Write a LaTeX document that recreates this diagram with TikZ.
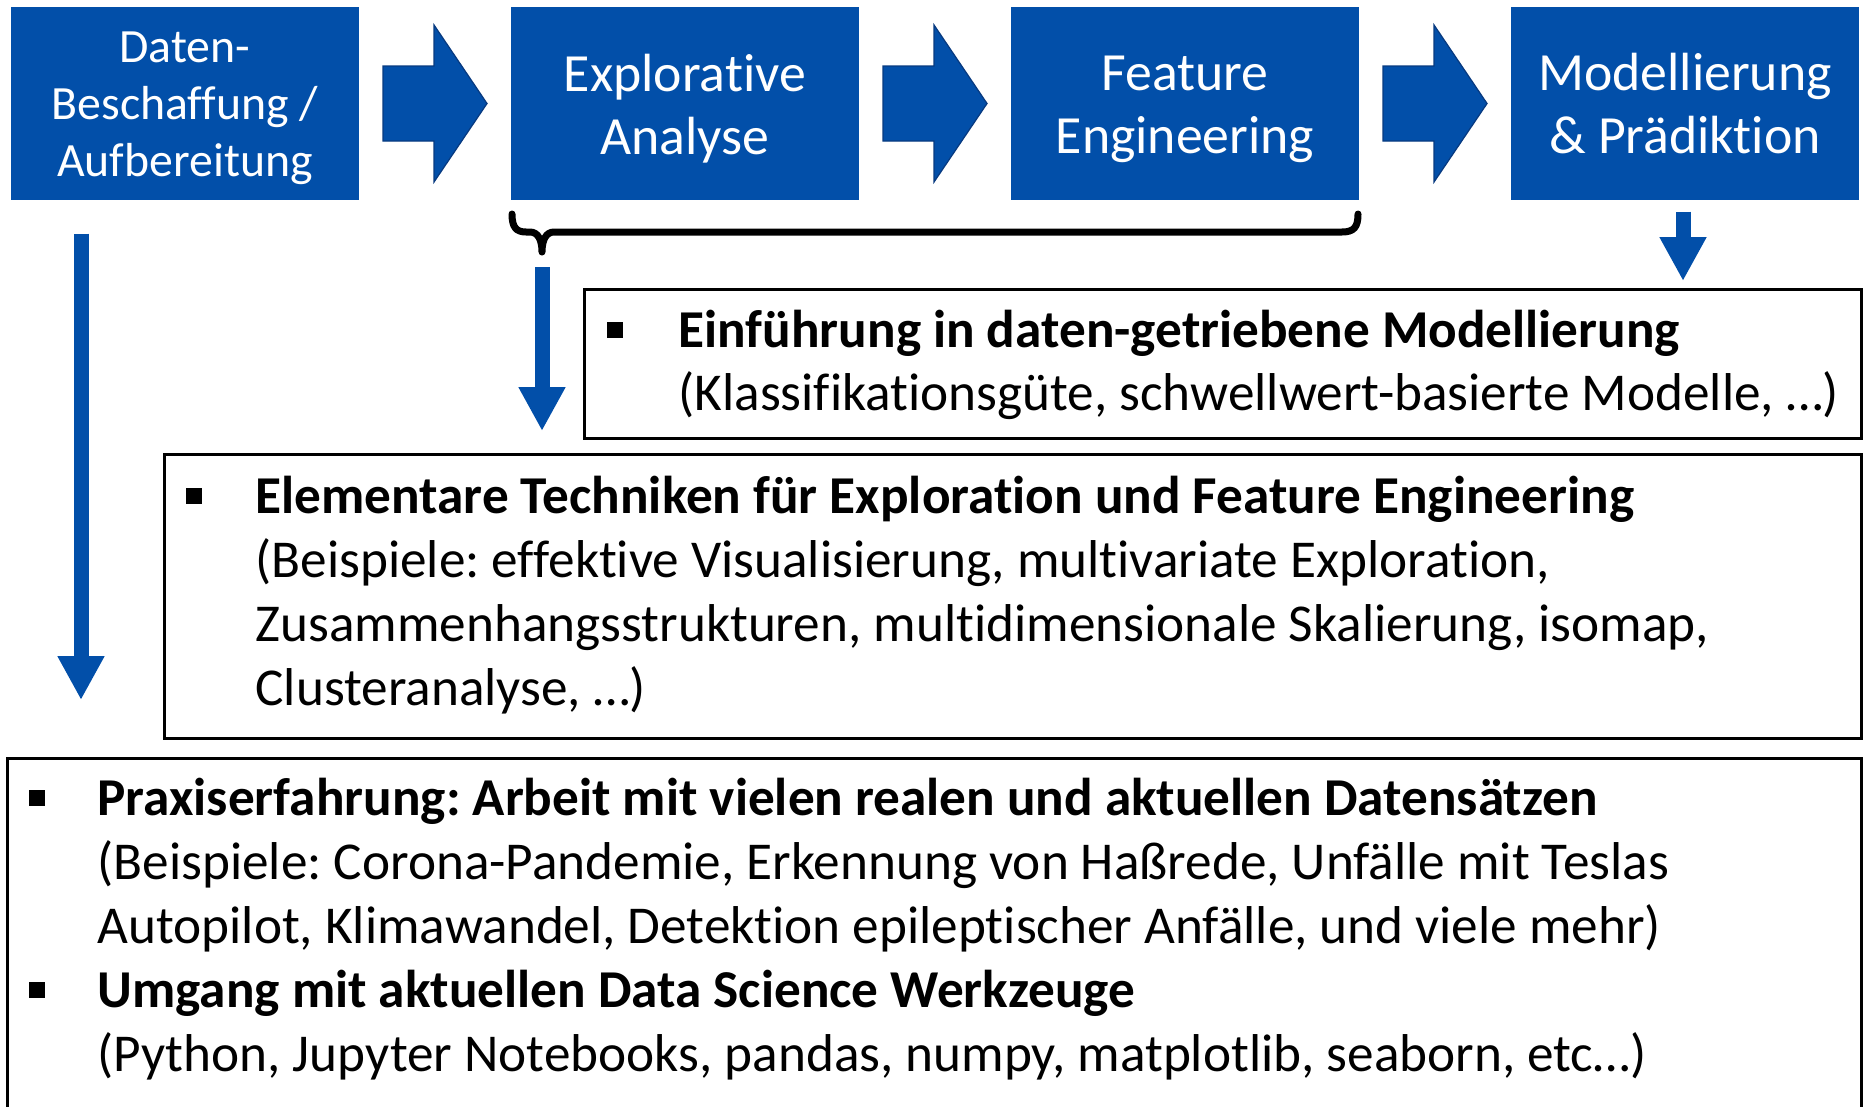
\documentclass[tikz,border=0pt]{standalone}
\usepackage{fontspec}
\setmainfont{Carlito}[Ligatures={NoCommon}]
\usetikzlibrary{arrows.meta,calc}

\definecolor{stageblue}{RGB}{2,79,169}
\definecolor{stageedge}{RGB}{8,58,128}

\begin{document}
\frenchspacing
\begin{tikzpicture}[x=0.4pt,y=-0.4pt,
  stage/.style={fill=stageblue, inner sep=0pt,
    minimum width=139.2pt, minimum height=77.2pt},
  stagetext/.style={text=white, inner sep=0pt, align=center,
    font=\fontsize{21.5}{25.2}\selectfont},
  smallstagetext/.style={text=white, inner sep=0pt, align=center,
    font=\fontsize{19.1}{22.8}\selectfont},
  chevron/.style={fill=stageblue, draw=stageedge, line width=0.5pt},
  brace/.style={line width=2.8pt, line cap=round, line join=round},
  downarrow/.style={draw=stageblue, line width=6pt,
    -{Triangle[length=17.6pt,width=17.6pt]}},
  panel/.style={draw, line width=1pt, inner sep=0pt, anchor=north west},
  bulletmark/.style={fill=black, minimum size=6.4pt, inner sep=0pt},
  boldline/.style={anchor=base west, inner sep=0pt,
    font=\fontsize{21.3}{25}\selectfont\bfseries},
  textline/.style={anchor=base west, inner sep=0pt,
    font=\fontsize{21.3}{25}\selectfont},
]
\useasboundingbox (0,0) rectangle (1863,1106);

% process stages
\node[stage] (d1) at (185,103.5) {};
\node[stage] (d2) at (685,103.5) {};
\node[stage] (d3) at (1185,103.5) {};
\node[stage] (d4) at (1685,103.5) {};
\node[smallstagetext] (t1) at ($(d1)+(0,5)$) {Daten-\\Beschaffung /\\Aufbereitung};
\node[stagetext] (t2) at ($(d2)+(0,5)$) {Explorative\\Analyse};
\node[stagetext] (t3) at ($(d3)+(0,6)$) {Feature\\Engineering};
\node[stagetext] (t4) at ($(d4)+(0,0.5)$) {Modellierung\\\& Prädiktion};

% block arrows between the stages
\newcommand\chevronat[1]{%
  \draw[chevron] ($(#1)+(-52,-37.5)$) -- ++(51,0) -- ++(0,-41)
    -- ++(53,78.5) -- ++(-53,78.5) -- ++(0,-41) -- ++(-51,0) -- cycle;}
\coordinate (m12) at ($(d1.east)!0.5!(d2.west)$);
\coordinate (m23) at ($(d2.east)!0.5!(d3.west)$);
\coordinate (m34) at ($(d3.east)!0.5!(d4.west)$);
\chevronat{m12}
\chevronat{m23}
\chevronat{m34}

% brace under exploration and feature engineering
\coordinate (bt) at (542,252);
\draw[brace] (512,214) .. controls (512,227) and (516,232) .. (526,232)
  -- (530,232) .. controls (538,232) and (542,240) .. (bt)
  .. controls (542,240) and (546,232) .. (554,232)
  -- (1342,232) .. controls (1354,232) and (1358,227) .. (1358,214);

% panels
\node[panel, minimum width=510.8pt, minimum height=59.6pt] (pa) at (583,288) {};
\node[panel, minimum width=678.8pt, minimum height=113.6pt] (pb) at (163,453) {};
\node[panel, minimum width=741.6pt, minimum height=150pt] (pc) at (6,757) {};

% downward arrows
\coordinate (lt) at (81,700);
\coordinate (bt2) at (542,431);
\coordinate (mt) at (1683,281);
\draw[downarrow, shorten <=13.2pt] (d1.south -| lt) -- (lt);
\draw[downarrow, shorten <=6pt] (bt) -- (bt2);
\draw[downarrow, shorten <=4.4pt] (d4.south -| mt) -- (mt);

% panel texts
\node[bulletmark] (ba) at (615,330) {};
\node[boldline] (a1) at (678,347) {Einführung in daten-getriebene Modellierung};
\node[textline] (a2) at (678,410) {(Klassifikationsgüte, schwellwert-basierte Modelle, …)};

\node[bulletmark] (bb) at (194,496) {};
\node[boldline] (b1) at (255,513) {Elementare Techniken für Exploration und Feature Engineering};
\node[textline] (b2) at (255,577) {(Beispiele: effektive Visualisierung, multivariate Exploration,};
\node[textline] (b3) at (255,641) {Zusammenhangsstrukturen, multidimensionale Skalierung, isomap,};
\node[textline] (b4) at (255,705) {Clusteranalyse, …)};

\node[bulletmark] (bc1) at (37,798) {};
\node[boldline] (c1) at (97,815) {Praxiserfahrung: Arbeit mit vielen realen und aktuellen Datensätzen};
\node[textline] (c2) at (97,879) {(Beispiele: Corona-Pandemie, Erkennung von Haßrede, Unfälle mit Teslas};
\node[textline] (c3) at (97,943) {Autopilot, Klimawandel, Detektion epileptischer Anfälle, und viele mehr)};
\node[bulletmark] (bc2) at (37,990) {};
\node[boldline] (c4) at (97,1007) {Umgang mit aktuellen Data Science Werkzeuge};
\node[textline] (c5) at (97,1071) {(Python, Jupyter Notebooks, pandas, numpy, matplotlib, seaborn, etc…)};
\end{tikzpicture}
\end{document}
